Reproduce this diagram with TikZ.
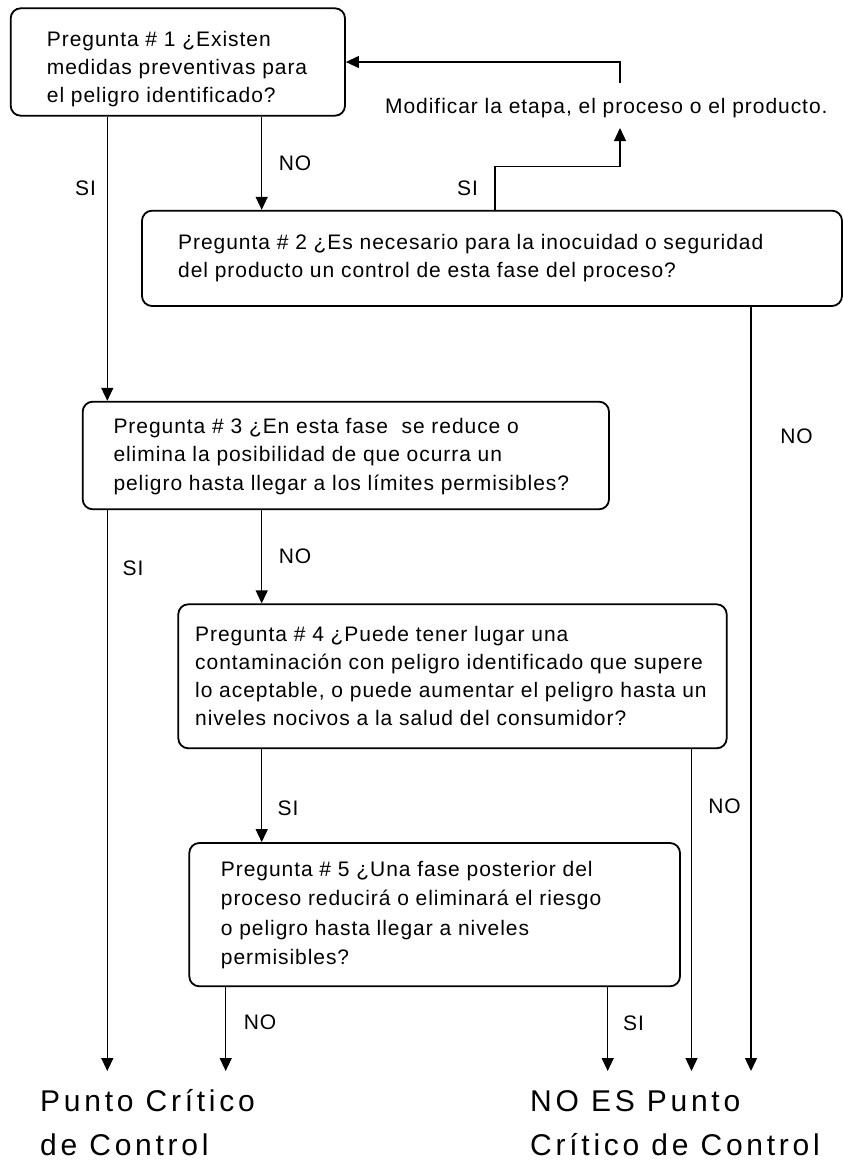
\documentclass[tikz,border=0pt]{standalone}
\usepackage{fontspec}
\setmainfont{Liberation Sans}
\newfontfamily\boxfont[LetterSpace=4.5]{Liberation Sans}
\newfontfamily\bigfont[LetterSpace=12.5]{Liberation Sans}
\usetikzlibrary{arrows.meta}
\newcommand\qtxt[2]{{\boxfont\fontsize{21}{#1}\selectfont\begin{tabular}[t]{@{}l@{}}#2\end{tabular}}}
\newcommand\bottxt[1]{{\bigfont\fontsize{30}{44}\selectfont\begin{tabular}[t]{@{}l@{}}#1\end{tabular}}}
\begin{document}
\begin{tikzpicture}[x=1pt,y=-1pt,
  qbox/.style={draw, line width=1.8pt, rounded corners=10pt, inner sep=0pt},
  qtext/.style={anchor=base west, inner sep=0pt},
  lbl/.style={inner sep=0pt, font=\boxfont\fontsize{21}{25}\selectfont},
  conn/.style={line width=1.3pt, -{Triangle[width=12pt,length=13pt]}}]
\useasboundingbox (0,0) rectangle (843,1163);

% boxes
\node[qbox, minimum width=334.3pt, minimum height=107.4pt] (q1) at (177.85,62) {};
\node[qbox, minimum width=700pt, minimum height=95.3pt] (q2) at (492,258.35) {};
\node[qbox, minimum width=526.3pt, minimum height=107.6pt] (q3) at (345.85,455.5) {};
\node[qbox, minimum width=548.4pt, minimum height=144pt] (q4) at (452.5,676.3) {};
\node[qbox, minimum width=490.7pt, minimum height=143.3pt] (q5) at (434.65,914.65) {};

% box texts
\node[qtext] (t1) at (46.7,46) {\qtxt{28}{Pregunta \# 1 ¿Existen\\medidas preventivas para\\el peligro identificado?}};
\node[qtext] (t2) at (178,249) {\qtxt{28}{Pregunta \# 2 ¿Es necesario para la inocuidad o seguridad\\del producto un control de esta fase del proceso?}};
\node[qtext] (t3) at (113.3,433) {\qtxt{28.5}{Pregunta \# 3 ¿En esta fase\ \ se reduce o\\elimina la posibilidad de que ocurra un\\peligro hasta llegar a los límites permisibles?}};
\node[qtext] (t4) at (195,641.7) {\qtxt{27.8}{Pregunta \# 4 ¿Puede tener lugar una\\contaminación con peligro identificado que supere\\lo aceptable, o puede aumentar el peligro hasta un\\niveles nocivos a la salud del consumidor?}};
\node[qtext] (t5) at (220.7,876.3) {\qtxt{29.5}{Pregunta \# 5 ¿Una fase posterior del\\proceso reducirá o eliminará el riesgo\\o peligro hasta llegar a niveles\\permisibles?}};

\node[qtext] (mod) at (385,113) {\boxfont\fontsize{21}{25}\selectfont Modificar la etapa, el proceso o el producto.};

% end texts
\node[qtext] (pcc) at (40,1111) {\bottxt{Punto Crítico\\de Control}};
\node[qtext] (nopcc) at (530,1111) {\bottxt{NO ES Punto\\Crítico de Control}};

% helper coordinates
\coordinate (xa) at (107.3,0);
\coordinate (xb) at (261.7,0);
\coordinate (xc) at (495,0);
\coordinate (xe) at (751,0);
\coordinate (xf) at (691.5,0);
\coordinate (xg) at (225.7,0);
\coordinate (xh) at (607.7,0);
\coordinate (bot) at (0,1071);
\coordinate (modbot) at (620,128);
\coordinate (modtop) at (620,82.7);

% connectors
\draw[conn] (q1.south -| xb) -- (q2.north -| xb);
\draw[conn] (q1.south -| xa) -- (q3.north -| xa);
\draw[conn] (q2.north -| xc) -- ++(0,-43) -| (modbot);
\draw[conn] (modtop) |- (q1.east);
\draw[conn] (q2.south -| xe) -- (bot -| xe);
\draw[conn] (q3.south -| xa) -- (bot -| xa);
\draw[conn] (q3.south -| xb) -- (q4.north -| xb);
\draw[conn] (q4.south -| xb) -- (q5.north -| xb);
\draw[conn] (q4.south -| xf) -- (bot -| xf);
\draw[conn] (q5.south -| xg) -- (bot -| xg);
\draw[conn] (q5.south -| xh) -- (bot -| xh);

% labels
\node[lbl] (l1) at (295,163) {NO};
\node[lbl] (l2) at (85.5,188) {SI};
\node[lbl] (l3) at (467.5,188) {SI};
\node[lbl] (l4) at (796.5,436.7) {NO};
\node[lbl] (l5) at (133,568) {SI};
\node[lbl] (l6) at (295,556) {NO};
\node[lbl] (l7) at (288,808) {SI};
\node[lbl] (l8) at (724.5,806) {NO};
\node[lbl] (l9) at (260,1022) {NO};
\node[lbl] (l10) at (633.5,1023) {SI};
\end{tikzpicture}
\end{document}
